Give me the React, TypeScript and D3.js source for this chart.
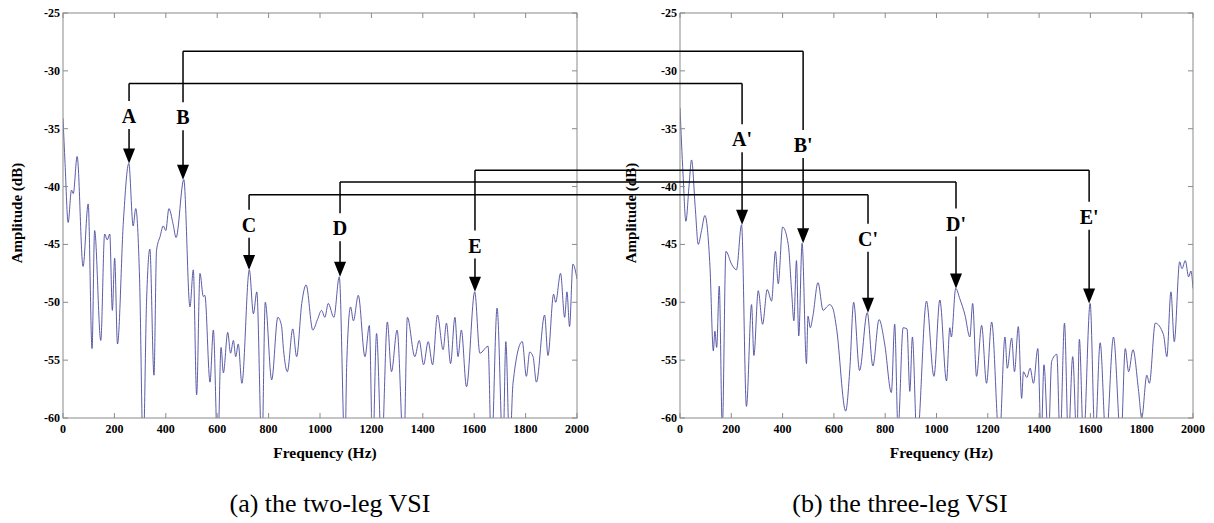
import React from "react";
import * as d3 from "d3";

const freqA = [0,8,20,33,40,55,78,98,113,123,147,162,172,182,192,201,212,235,256,273,283,298,312,325,338,354,364,378,390,400,412,428,440,470,494,507,520,533,546,552,572,585,602,615,624,641,652,663,672,682,696,725,741,754,774,787,812,836,850,858,873,894,909,929,946,972,990,1006,1019,1032,1054,1075,1097,1104,1119,1130,1149,1175,1192,1205,1220,1240,1262,1278,1300,1326,1340,1369,1386,1403,1421,1438,1457,1479,1492,1508,1525,1537,1550,1570,1602,1622,1654,1667,1689,1712,1723,1738,1751,1787,1803,1816,1829,1842,1874,1887,1909,1917,1936,1952,1961,1971,1984,2000];
const ampA = [-34.1,-38,-43.1,-40.3,-40.6,-37.4,-46.9,-41.5,-54,-43.8,-53.3,-44.1,-44.6,-44.1,-50.7,-46.2,-53.6,-43,-38.0,-43.4,-41.9,-48,-63,-50,-45.4,-56.3,-45.5,-44.3,-43.4,-43.8,-41.9,-43.2,-44.4,-39.4,-50.4,-47.2,-58,-47.5,-49.5,-49.4,-56.9,-52.4,-63,-53.9,-56.1,-52.6,-54.4,-53.3,-54.7,-53.6,-57,-47.2,-51,-49.1,-63,-50,-56.7,-51.3,-52,-54.1,-56,-52.3,-54.7,-50.1,-48.5,-52.4,-51.5,-50.7,-51.3,-50.1,-51.3,-47.8,-63,-55.3,-50.4,-51.6,-49.4,-54.7,-52,-63,-52.7,-63,-51.7,-56,-52.4,-63,-51.3,-54.7,-53.3,-55.4,-53.4,-55.4,-51.1,-54.1,-51.8,-55.3,-51.3,-54.7,-52.4,-57.3,-49.1,-54.4,-53.8,-63,-50.5,-63,-53.4,-63,-57,-53.4,-56.4,-54.3,-54.7,-56.9,-51.1,-54.6,-49.3,-50,-47.5,-51.3,-49.1,-52.1,-46.7,-48];

const freqB = [0,12,23,35,45,60,71,84,97,117,130,136,143,153,165,179,201,220,240,259,279,288,305,322,340,357,372,383,400,422,435,444,454,463,476,493,499,508,518,538,558,572,584,597,610,646,662,677,700,730,752,776,798,824,837,850,870,885,896,906,924,961,990,1013,1039,1052,1058,1075,1091,1111,1130,1141,1156,1176,1195,1215,1245,1267,1276,1293,1304,1319,1332,1339,1352,1365,1378,1395,1408,1419,1436,1449,1469,1482,1499,1514,1531,1547,1557,1573,1599,1618,1638,1661,1690,1719,1736,1749,1766,1788,1800,1820,1830,1853,1885,1898,1914,1927,1948,1957,1970,1983,1992,2000];
const ampB = [-33.2,-39,-43,-40,-37.7,-42,-45,-43.8,-42.5,-47,-54.2,-52.5,-53.9,-48.6,-61,-45.6,-46.7,-47.2,-43.3,-59,-50.2,-54.6,-49,-51.9,-48.9,-49.9,-45.6,-48.4,-43.5,-45,-49,-51.6,-46.4,-52.9,-44.9,-55.3,-51.2,-52.2,-51.2,-48.3,-50.7,-50.4,-50.2,-50.6,-52.2,-59.4,-55.8,-50,-55.9,-50.9,-55.5,-51.5,-53.6,-57.8,-51.9,-61,-52.2,-52.3,-57.7,-53,-62,-49.9,-56.4,-49.8,-56.8,-52.2,-53,-48.8,-49.7,-51.1,-53,-50.1,-56.4,-52,-57,-51.7,-62,-53,-55.7,-53.1,-56,-52.1,-58.3,-56,-56.5,-55.7,-57,-54,-62,-55.4,-62,-55.1,-54.5,-62,-51.8,-62,-54.7,-62,-53.2,-62,-50.1,-62,-53.5,-62,-53,-62,-54,-56,-54.1,-57.7,-60,-56.3,-57,-51.8,-52.8,-54.7,-49.1,-53.4,-46.5,-47.1,-46.4,-47.8,-47.3,-48.8];

const xTicks = [0, 200, 400, 600, 800, 1000, 1200, 1400, 1600, 1800, 2000];
const yTicks = [-25, -30, -35, -40, -45, -50, -55, -60];

const markNames = ["A", "B", "C", "D", "E"];
const markFreqA = [257, 467, 724, 1078, 1603];
const markPeakA = [-38.0, -39.4, -47.2, -47.8, -49.1];
const markLabelA = [-33.9, -34.0, -43.3, -43.6, -45.1];
const markFreqB = [242, 480, 733, 1076, 1595];
const markPeakB = [-43.3, -44.9, -50.9, -48.8, -50.1];
const markLabelB = [-35.9, -36.4, -44.5, -43.2, -42.6];
const linkLevel = [-31.1, -28.3, -40.7, -39.6, -38.6];

const captions = ["(a) the two-leg VSI", "(b) the three-leg VSI"];

const W = 1214, H = 523;
const TOP = 13, BOTTOM = 418;
const FONT = "Liberation Serif, Times New Roman, serif";

const yScale = d3.scaleLinear().domain([-25, -60]).range([TOP, BOTTOM]);
const xScaleA = d3.scaleLinear().domain([0, 2000]).range([63, 577]);
const xScaleB = d3.scaleLinear().domain([0, 2000]).range([680, 1193]);

function Panel({ id, xs, freq, amp, caption, ylabX, capX }: any) {
  const [x0, x1] = xs.range();
  const line = d3.line<number>()
    .x((_, i) => xs(freq[i]))
    .y((d) => yScale(d))
    .curve(d3.curveMonotoneX);
  const cx = (x0 + x1) / 2;
  return (
    <g>
      <defs>
        <clipPath id={id}>
          <rect x={x0} y={TOP} width={x1 - x0} height={BOTTOM - TOP} />
        </clipPath>
      </defs>
      <path d={line(amp) || ""} fill="none" stroke="#4a4a9e" strokeWidth={0.9} clipPath={`url(#${id})`} />
      <rect x={x0} y={TOP} width={x1 - x0} height={BOTTOM - TOP} fill="none" stroke="#8a8a8a" strokeWidth={1} />
      {xTicks.map((t) => (
        <g key={"x" + t}>
          <line x1={xs(t)} x2={xs(t)} y1={BOTTOM} y2={BOTTOM - 5} stroke="#8a8a8a" />
          <line x1={xs(t)} x2={xs(t)} y1={TOP} y2={TOP + 5} stroke="#8a8a8a" />
          <text x={xs(t)} y={BOTTOM + 15} textAnchor="middle" fontFamily={FONT} fontWeight="bold" fontSize={12}>{t}</text>
        </g>
      ))}
      {yTicks.map((t) => (
        <g key={"y" + t}>
          <line x1={x0} x2={x0 + 5} y1={yScale(t)} y2={yScale(t)} stroke="#8a8a8a" />
          <line x1={x1} x2={x1 - 5} y1={yScale(t)} y2={yScale(t)} stroke="#8a8a8a" />
          <text x={x0 - 3} y={yScale(t) + 4} textAnchor="end" fontFamily={FONT} fontWeight="bold" fontSize={12}>{t}</text>
        </g>
      ))}
      <text x={cx + 5} y={458} textAnchor="middle" fontFamily={FONT} fontWeight="bold" fontSize={15.5}>Frequency (Hz)</text>
      <text transform={`translate(${ylabX},${213}) rotate(-90)`} textAnchor="middle" fontFamily={FONT} fontWeight="bold" fontSize={15}>Amplitude (dB)</text>
      <text x={capX} y={512} textAnchor="middle" fontFamily={FONT} fontSize={26}>{caption}</text>
    </g>
  );
}

function Marker({ x, level, labelV, peakV, name }: any) {
  const yl = yScale(level);
  const yc = yScale(labelV);
  const yp = yScale(peakV);
  const headH = 15, headW = 6;
  return (
    <g>
      <line x1={x} x2={x} y1={yl} y2={yc - 15} stroke="#000" strokeWidth={1.5} />
      <line x1={x} x2={x} y1={yc + 13} y2={yp - headH + 1} stroke="#000" strokeWidth={1.5} />
      <path d={`M${x - headW},${yp - headH} L${x + headW},${yp - headH} L${x},${yp} Z`} fill="#000" />
      <text x={x} y={yc + 7} textAnchor="middle" fontFamily={FONT} fontWeight="bold" fontSize={20}>{name}</text>
    </g>
  );
}

export default function App() {
  return (
    <svg width={W} height={H} style={{ position: "absolute", left: 0, top: 0, background: "#fff" }}>
      <Panel id="clipA" xs={xScaleA} freq={freqA} amp={ampA} caption={captions[0]} ylabX={22} capX={330} />
      <Panel id="clipB" xs={xScaleB} freq={freqB} amp={ampB} caption={captions[1]} ylabX={636} capX={900} />
      {markNames.map((n, i) => {
        const xa = xScaleA(markFreqA[i]);
        const xb = xScaleB(markFreqB[i]);
        const yl = yScale(linkLevel[i]);
        return (
          <g key={n}>
            <line x1={xa} x2={xb} y1={yl} y2={yl} stroke="#000" strokeWidth={1.5} />
            <Marker x={xa} level={linkLevel[i]} labelV={markLabelA[i]} peakV={markPeakA[i]} name={n} />
            <Marker x={xb} level={linkLevel[i]} labelV={markLabelB[i]} peakV={markPeakB[i]} name={n + "'"} />
          </g>
        );
      })}
    </svg>
  );
}
